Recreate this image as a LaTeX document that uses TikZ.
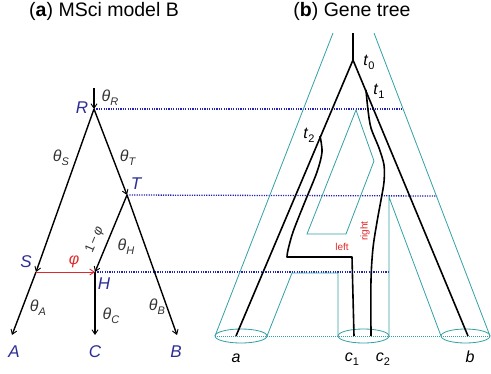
\documentclass[tikz,border=0pt]{standalone}
\usepackage{fontspec}
\setmainfont{Liberation Sans}
\usetikzlibrary{arrows.meta}
\definecolor{nodeblue}{RGB}{45,45,150}
\definecolor{lineblue}{RGB}{35,35,175}
\definecolor{tubeteal}{RGB}{50,160,165}
\definecolor{flowred}{RGB}{225,40,40}
\definecolor{parmgray}{RGB}{50,50,50}
\newcommand{\lowsub}[1]{\raisebox{-0.5ex}{\fontsize{11}{11}\selectfont #1}}
\newcommand{\thetapar}[1]{\textit{θ}\lowsub{\textit{#1}}}
\tikzset{
	spbranch/.style={line width=1.4pt,-{Straight Barb[length=4.5pt,width=6pt,line width=0.9pt]}},
	genebranch/.style={line width=1.6pt,line join=round},
	tube/.style={tubeteal,line width=0.8pt},
	timeline/.style={lineblue,line width=1.3pt,dash pattern=on 1.2pt off 1.2pt},
	splab/.style={nodeblue,font=\fontsize{17}{17}\selectfont\itshape,inner sep=0pt},
	parlab/.style={parmgray,font=\fontsize{16}{16}\selectfont,inner sep=0pt},
	genelab/.style={font=\fontsize{16}{16}\selectfont,inner sep=0pt},
	sidelab/.style={flowred,font=\fontsize{10}{10}\selectfont,inner sep=0pt},
	paneltitle/.style={font=\fontsize{19.5}{19.5}\selectfont,inner sep=0pt}
}
\begin{document}
\begin{tikzpicture}[x=1pt,y=-1pt]
	\useasboundingbox (0,0) rectangle (491,373);
	\node[paneltitle] (titleA) at (104,11) {(\textbf{a}) MSci model B};
	\node[paneltitle] (titleB) at (352,11) {(\textbf{b}) Gene tree};
	% species tree
	\coordinate (Rin) at (94,88);
	\coordinate (R) at (94,109);
	\coordinate (T) at (127,195);
	\coordinate (S) at (36,272);
	\coordinate (H) at (95,272);
	\coordinate (A) at (12,335);
	\coordinate (C) at (95,335);
	\coordinate (B) at (177,335);
	\coordinate (Rend) at (403,109);
	\coordinate (Tend) at (437,196);
	\coordinate (Hend) at (388,272);
	\draw[timeline] (R) -- (Rend);
	\draw[timeline] (T) -- (Tend);
	\draw[timeline] (H) -- (Hend);
	\draw[spbranch] (Rin) -- (R);
	\draw[spbranch] (R) -- (S);
	\draw[spbranch] (S) -- (A);
	\draw[spbranch] (R) -- (T);
	\draw[spbranch] (T) -- (B);
	\draw[spbranch] (T) -- (H);
	\draw[spbranch] (H) -- (C);
	\draw[spbranch,flowred,line width=1pt] (S) -- (H);
	\node[splab] (Rlab) at (82,108) {R};
	\node[splab] (Tlab) at (136,184) {T};
	\node[splab] (Slab) at (26,262) {S};
	\node[splab] (Hlab) at (104,284) {H};
	\node[splab] (Alab) at (14,352) {A};
	\node[splab] (Clab) at (95,352) {C};
	\node[splab] (Blab) at (176,352) {B};
	\node[parlab] (thR) at (110,98) {\thetapar{R}};
	\node[parlab] (thS) at (61,158) {\thetapar{S}};
	\node[parlab] (thT) at (128,158) {\thetapar{T}};
	\node[parlab] (thH) at (126,247) {\thetapar{H}};
	\node[parlab] (thA) at (38,308) {\thetapar{A}};
	\node[parlab] (thC) at (111,316) {\thetapar{C}};
	\node[parlab] (thB) at (157,307) {\thetapar{B}};
	\node[parlab,font=\fontsize{13}{13}\selectfont,rotate=67] (oneminus) at (95,240) {1\,−\,\textit{φ}};
	\node[parlab,flowred] (phi) at (74,262) {\textit{φ}};
	% gene tree in the tubes
	\draw[tube] (333,33) -- (215,336);
	\draw[tube] (374,33) -- (490,336);
	\draw[tube] (267,336) -- (292,273) -- (338,273) -- (338,336);
	\draw[tube] (356,110) -- (374,161) -- (346,234) -- (307,234) -- cycle;
	\draw[tube] (389,336) -- (389,197) -- (441,336);
	\draw[tube] (241,336) ellipse [x radius=26pt,y radius=7pt];
	\draw[tube] (363.5,336) ellipse [x radius=25.5pt,y radius=7pt];
	\draw[tube] (465.5,336) ellipse [x radius=24.5pt,y radius=7pt];
	\draw[tube,dash pattern=on 1pt off 1pt] (215,336) -- (490,336);
	\coordinate (groot) at (353,33);
	\coordinate (t0) at (353,60);
	\coordinate (t1) at (366,90);
	\coordinate (t2) at (320,136);
	\coordinate (a) at (236,336);
	\coordinate (b) at (468,336);
	\coordinate (c1) at (354,336);
	\coordinate (c2) at (371,336);
	\draw[genebranch] (groot) -- (t0) -- (a);
	\draw[genebranch] (t0) -- (b);
	\draw[genebranch] plot[smooth] coordinates {(t2) (322,152) (317,172) (304,204) (293,232) (288,250) (287,257)} -- (352,257) -- (c1);
	\draw[genebranch] plot[smooth] coordinates {(t1) (368,110) (371,128) (379,148) (384,165) (384,182) (381,200) (377,222) (373,248) (371,280) (c2)};
	\node[genelab] (t0lab) at (369,62) {\textit{t}\lowsub{0}};
	\node[genelab] (t1lab) at (379,91) {\textit{t}\lowsub{1}};
	\node[genelab] (t2lab) at (309,135) {\textit{t}\lowsub{2}};
	\node[genelab] (alab) at (236,358) {\textit{a}};
	\node[genelab] (c1lab) at (352,359) {\textit{c}\lowsub{1}};
	\node[genelab] (c2lab) at (383,359) {\textit{c}\lowsub{2}};
	\node[genelab] (blab) at (470,357) {\textit{b}};
	\node[sidelab] (leftlab) at (342,247) {left};
	\node[sidelab,rotate=90] (rightlab) at (365,231) {right};
\end{tikzpicture}
\end{document}
